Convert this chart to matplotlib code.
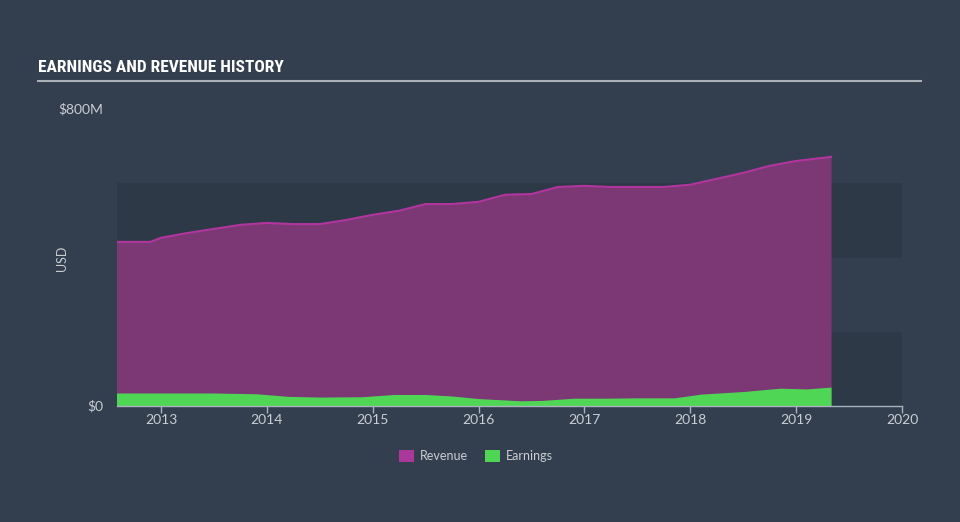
import matplotlib
matplotlib.use("Agg")
import matplotlib.pyplot as plt
from matplotlib.patches import Rectangle
from matplotlib.lines import Line2D
from matplotlib import font_manager as fm

# Data (decimal years, values in $M)
rev_x = [2012.58, 2012.9, 2013.0, 2013.25, 2013.5, 2013.75, 2014.0, 2014.25, 2014.5, 2014.75,
         2015.0, 2015.25, 2015.5, 2015.75, 2016.0, 2016.25, 2016.5, 2016.75, 2017.0, 2017.25,
         2017.5, 2017.75, 2018.0, 2018.25, 2018.5, 2018.75, 2019.0, 2019.33]
revenue = [442, 442, 453, 466, 477, 488, 493, 490, 490, 501,
           515, 526, 544, 544, 550, 569, 571, 590, 593, 590,
           590, 590, 596, 612, 628, 647, 660, 671]
earn_x = [2012.58, 2013.0, 2013.5, 2013.9, 2014.2, 2014.5, 2014.9, 2015.2, 2015.5, 2015.75,
          2016.0, 2016.4, 2016.6, 2016.9, 2017.2, 2017.5, 2017.85, 2018.1, 2018.5, 2018.85,
          2019.1, 2019.33]
earnings = [35, 35, 35, 33, 26, 24, 25, 31, 31, 27,
            20, 14, 15, 21, 21, 22, 22, 32, 39, 48,
            46, 51]
year_ticks = [2013, 2014, 2015, 2016, 2017, 2018, 2019, 2020]
y_ticks = [0, 800]
y_labels = ["$0", "$800M"]

BG = "#333f4e"
BAND = "#2d3946"
REV_FILL = "#7b3874"
REV_LINE = "#b2359f"
REV_SW = "#a9389a"
EARN = "#50d655"
TXT = "#c9ced4"

# pick a condensed font for the title if one is installed
names = {f.name for f in fm.fontManager.ttflist}
title_family = None
for cand in ["Liberation Sans Narrow", "DejaVu Sans Condensed", "Roboto Condensed",
             "Open Sans Condensed", "Noto Sans Condensed"]:
    if cand in names:
        title_family = cand
        break
if title_family is None:
    title_family = "DejaVu Sans"
    title_kw = {"fontsize": 9}
else:
    title_kw = {"fontsize": 12.5}

fig = plt.figure(figsize=(9.6, 5.22), dpi=100, facecolor=BG)
ax = fig.add_axes([117/960, 1-406/522, (902-117)/960, (406-109)/522])
ax.set_facecolor(BG)
ax.set_xlim(2012.585, 2020.0)
ax.set_ylim(0, 800)

for lo in (0, 400):
    ax.axhspan(lo, lo + 200, color=BAND, zorder=0, lw=0)

ax.fill_between(rev_x, 0, revenue, color=REV_FILL, lw=0, zorder=2)
ax.plot(rev_x, revenue, color=REV_LINE, lw=1.5, zorder=3)
ax.fill_between(earn_x, 0, earnings, color=EARN, lw=0, zorder=4)

for s in ("top", "right", "left"):
    ax.spines[s].set_visible(False)
ax.spines["bottom"].set_color("#aab3bd")
ax.spines["bottom"].set_linewidth(1)
ax.spines["bottom"].set_zorder(5)

ax.set_xticks(year_ticks)
ax.set_xticklabels([str(y) for y in year_ticks])
ax.tick_params(axis="x", colors="#aab3bd", length=5, width=1, labelcolor=TXT,
               labelsize=10, pad=0.5)
for lab in ax.get_xticklabels():
    lab.set_family(["Lato", "DejaVu Sans"])

ax.set_yticks(y_ticks)
ax.set_yticklabels(y_labels)
ax.tick_params(axis="y", length=0, labelcolor=TXT, labelsize=10, pad=10)
for lab in ax.get_yticklabels():
    lab.set_family(["Lato", "DejaVu Sans"])
    lab.set_verticalalignment("center")

fig.text(62/960, 1-258/522, "USD", rotation=90, color=TXT, fontsize=9,
         ha="center", va="center", family=["Lato", "DejaVu Sans"])

fig.text(38/960, 1-68/522, "EARNINGS AND REVENUE HISTORY", color="white",
         fontweight="bold", ha="left", va="center",
         family=[title_family, "DejaVu Sans"], **title_kw)
fig.add_artist(Line2D([38/960, 921/960], [1-81/522, 1-81/522], color="#aab0b8",
                      lw=1.5, transform=fig.transFigure))

# legend
for sx, col, label in ((399, REV_SW, "Revenue"), (485, EARN, "Earnings")):
    fig.add_artist(Rectangle((sx/960, 1-462/522), 15/960, 12/522, color=col,
                             transform=fig.transFigure, lw=0))
    fig.text((sx+21)/960, 1-456/522, label, color=TXT, fontsize=9,
             ha="left", va="center", family=["Lato", "DejaVu Sans"])

fig.savefig("out.png", dpi=100, facecolor=BG)
